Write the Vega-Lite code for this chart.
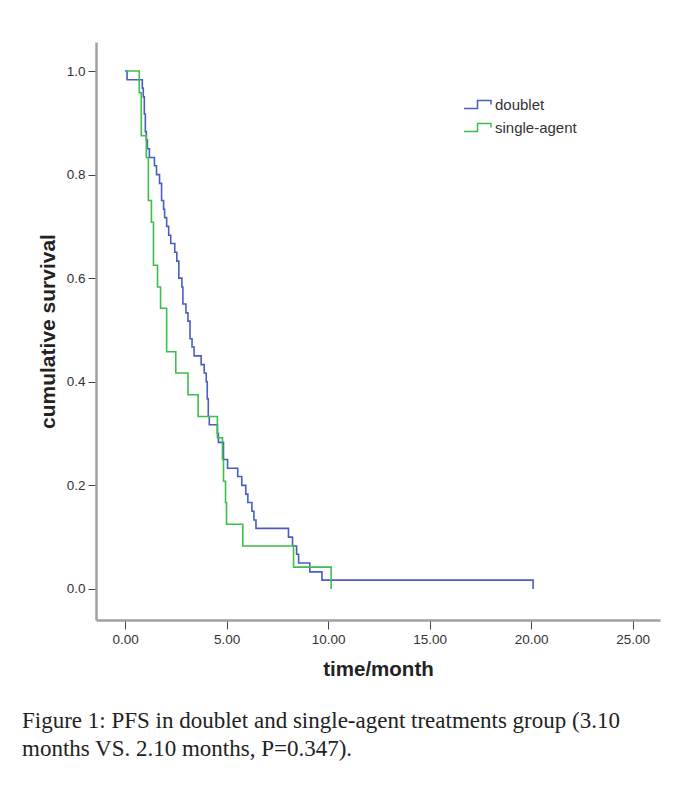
{
  "$schema": "https://vega.github.io/schema/vega-lite/v6.json",
  "autosize": {"type": "none"},
  "padding": {"left": 96, "top": 42, "right": 23, "bottom": 177},
  "width": 564,
  "height": 578,
  "background": "white",
  "config": {
    "view": {"stroke": null},
    "font": "Liberation Sans"
  },
  "title": {
    "text": ["Figure 1: PFS in doublet and single-agent treatments group (3.10", "months VS. 2.10 months, P=0.347)."],
    "orient": "bottom",
    "anchor": "start",
    "frame": "group",
    "dx": -74,
    "offset": 30,
    "font": "Liberation Serif",
    "fontSize": 23,
    "fontWeight": "normal",
    "color": "#222",
    "lineHeight": 28
  },
  "data": {
    "values": [
      {"group": "doublet", "i": 0, "time": 0, "surv": 1},
      {"group": "doublet", "i": 1, "time": 0.1, "surv": 0.983},
      {"group": "doublet", "i": 2, "time": 0.85, "surv": 0.967},
      {"group": "doublet", "i": 3, "time": 0.9, "surv": 0.95},
      {"group": "doublet", "i": 4, "time": 0.95, "surv": 0.917},
      {"group": "doublet", "i": 5, "time": 1.0, "surv": 0.883},
      {"group": "doublet", "i": 6, "time": 1.05, "surv": 0.867},
      {"group": "doublet", "i": 7, "time": 1.1, "surv": 0.85},
      {"group": "doublet", "i": 8, "time": 1.2, "surv": 0.833},
      {"group": "doublet", "i": 9, "time": 1.45, "surv": 0.817},
      {"group": "doublet", "i": 10, "time": 1.55, "surv": 0.8},
      {"group": "doublet", "i": 11, "time": 1.7, "surv": 0.783},
      {"group": "doublet", "i": 12, "time": 1.8, "surv": 0.75},
      {"group": "doublet", "i": 13, "time": 1.9, "surv": 0.733},
      {"group": "doublet", "i": 14, "time": 1.95, "surv": 0.717},
      {"group": "doublet", "i": 15, "time": 2.05, "surv": 0.7},
      {"group": "doublet", "i": 16, "time": 2.15, "surv": 0.683},
      {"group": "doublet", "i": 17, "time": 2.25, "surv": 0.667},
      {"group": "doublet", "i": 18, "time": 2.45, "surv": 0.65},
      {"group": "doublet", "i": 19, "time": 2.55, "surv": 0.633},
      {"group": "doublet", "i": 20, "time": 2.65, "surv": 0.6},
      {"group": "doublet", "i": 21, "time": 2.8, "surv": 0.583},
      {"group": "doublet", "i": 22, "time": 2.85, "surv": 0.55},
      {"group": "doublet", "i": 23, "time": 3.0, "surv": 0.533},
      {"group": "doublet", "i": 24, "time": 3.1, "surv": 0.517},
      {"group": "doublet", "i": 25, "time": 3.2, "surv": 0.483},
      {"group": "doublet", "i": 26, "time": 3.3, "surv": 0.467},
      {"group": "doublet", "i": 27, "time": 3.4, "surv": 0.45},
      {"group": "doublet", "i": 28, "time": 3.75, "surv": 0.433},
      {"group": "doublet", "i": 29, "time": 3.9, "surv": 0.417},
      {"group": "doublet", "i": 30, "time": 4.0, "surv": 0.4},
      {"group": "doublet", "i": 31, "time": 4.05, "surv": 0.367},
      {"group": "doublet", "i": 32, "time": 4.1, "surv": 0.333},
      {"group": "doublet", "i": 33, "time": 4.15, "surv": 0.317},
      {"group": "doublet", "i": 34, "time": 4.55, "surv": 0.3},
      {"group": "doublet", "i": 35, "time": 4.6, "surv": 0.283},
      {"group": "doublet", "i": 36, "time": 4.85, "surv": 0.25},
      {"group": "doublet", "i": 37, "time": 5.05, "surv": 0.233},
      {"group": "doublet", "i": 38, "time": 5.55, "surv": 0.217},
      {"group": "doublet", "i": 39, "time": 5.75, "surv": 0.2},
      {"group": "doublet", "i": 40, "time": 5.95, "surv": 0.183},
      {"group": "doublet", "i": 41, "time": 6.05, "surv": 0.167},
      {"group": "doublet", "i": 42, "time": 6.25, "surv": 0.15},
      {"group": "doublet", "i": 43, "time": 6.35, "surv": 0.133},
      {"group": "doublet", "i": 44, "time": 6.45, "surv": 0.117},
      {"group": "doublet", "i": 45, "time": 8.05, "surv": 0.1},
      {"group": "doublet", "i": 46, "time": 8.25, "surv": 0.083},
      {"group": "doublet", "i": 47, "time": 8.45, "surv": 0.067},
      {"group": "doublet", "i": 48, "time": 8.55, "surv": 0.05},
      {"group": "doublet", "i": 49, "time": 9.1, "surv": 0.033},
      {"group": "doublet", "i": 50, "time": 9.7, "surv": 0.017},
      {"group": "doublet", "i": 51, "time": 20.1, "surv": 0.017},
      {"group": "doublet", "i": 52, "time": 20.1, "surv": 0.0},
      {"group": "single-agent", "i": 0, "time": 0, "surv": 1},
      {"group": "single-agent", "i": 1, "time": 0.7, "surv": 0.958},
      {"group": "single-agent", "i": 2, "time": 0.8, "surv": 0.917},
      {"group": "single-agent", "i": 3, "time": 0.8, "surv": 0.875},
      {"group": "single-agent", "i": 4, "time": 1.05, "surv": 0.833},
      {"group": "single-agent", "i": 5, "time": 1.15, "surv": 0.792},
      {"group": "single-agent", "i": 6, "time": 1.15, "surv": 0.75},
      {"group": "single-agent", "i": 7, "time": 1.3, "surv": 0.708},
      {"group": "single-agent", "i": 8, "time": 1.4, "surv": 0.667},
      {"group": "single-agent", "i": 9, "time": 1.4, "surv": 0.625},
      {"group": "single-agent", "i": 10, "time": 1.6, "surv": 0.583},
      {"group": "single-agent", "i": 11, "time": 1.75, "surv": 0.542},
      {"group": "single-agent", "i": 12, "time": 2.05, "surv": 0.5},
      {"group": "single-agent", "i": 13, "time": 2.05, "surv": 0.458},
      {"group": "single-agent", "i": 14, "time": 2.5, "surv": 0.417},
      {"group": "single-agent", "i": 15, "time": 3.1, "surv": 0.375},
      {"group": "single-agent", "i": 16, "time": 3.6, "surv": 0.333},
      {"group": "single-agent", "i": 17, "time": 4.55, "surv": 0.292},
      {"group": "single-agent", "i": 18, "time": 4.8, "surv": 0.25},
      {"group": "single-agent", "i": 19, "time": 4.85, "surv": 0.208},
      {"group": "single-agent", "i": 20, "time": 4.95, "surv": 0.167},
      {"group": "single-agent", "i": 21, "time": 5.0, "surv": 0.125},
      {"group": "single-agent", "i": 22, "time": 5.8, "surv": 0.083},
      {"group": "single-agent", "i": 23, "time": 8.3, "surv": 0.042},
      {"group": "single-agent", "i": 24, "time": 10.15, "surv": 0.042},
      {"group": "single-agent", "i": 25, "time": 10.15, "surv": 0.0}
    ]
  },
  "mark": {"type": "line", "interpolate": "step-after", "strokeWidth": 1.6, "clip": false},
  "encoding": {
    "x": {
      "field": "time",
      "type": "quantitative",
      "scale": {"domain": [-1.43, 26.35], "nice": false, "zero": false},
      "axis": {
        "values": [0, 5, 10, 15, 20, 25],
        "format": ".2f",
        "title": "time/month",
        "grid": false,
        "domainColor": "#a0a0a0",
        "domainWidth": 2.5,
        "tickColor": "#444",
        "tickSize": 9,
        "tickWidth": 1,
        "labelFont": "Liberation Sans",
        "labelFontSize": 13.5,
        "labelColor": "#333",
        "labelPadding": 3,
        "titleFont": "Liberation Sans",
        "titleFontSize": 20.5,
        "titleFontWeight": "bold",
        "titleColor": "#222",
        "titlePadding": 14
      }
    },
    "y": {
      "field": "surv",
      "type": "quantitative",
      "scale": {"domain": [-0.06, 1.056], "nice": false, "zero": false},
      "axis": {
        "values": [0, 0.2, 0.4, 0.6, 0.8, 1.0],
        "format": ".1f",
        "title": "cumulative survival",
        "grid": false,
        "domainColor": "#a0a0a0",
        "domainWidth": 2.5,
        "tickColor": "#444",
        "tickSize": 8,
        "tickWidth": 1,
        "labelFont": "Liberation Sans",
        "labelFontSize": 13.5,
        "labelColor": "#333",
        "labelPadding": 3,
        "titleFont": "Liberation Sans",
        "titleFontSize": 21,
        "titleFontWeight": "bold",
        "titleColor": "#222",
        "titlePadding": 8
      }
    },
    "color": {
      "field": "group",
      "type": "nominal",
      "scale": {"domain": ["doublet", "single-agent"], "range": ["#4a5ec0", "#3cc04a"]},
      "legend": {
        "title": null,
        "orient": "none",
        "legendX": 367,
        "legendY": 48,
        "symbolType": "M-1,0.3H0V-0.3H1V0",
        "symbolSize": 729,
        "symbolStrokeWidth": 1.5,
        "labelFont": "Liberation Sans",
        "labelFontSize": 15,
        "labelColor": "#333",
        "labelOffset": 3,
        "rowPadding": -4
      }
    },
    "order": {"field": "i", "type": "quantitative"}
  }
}
